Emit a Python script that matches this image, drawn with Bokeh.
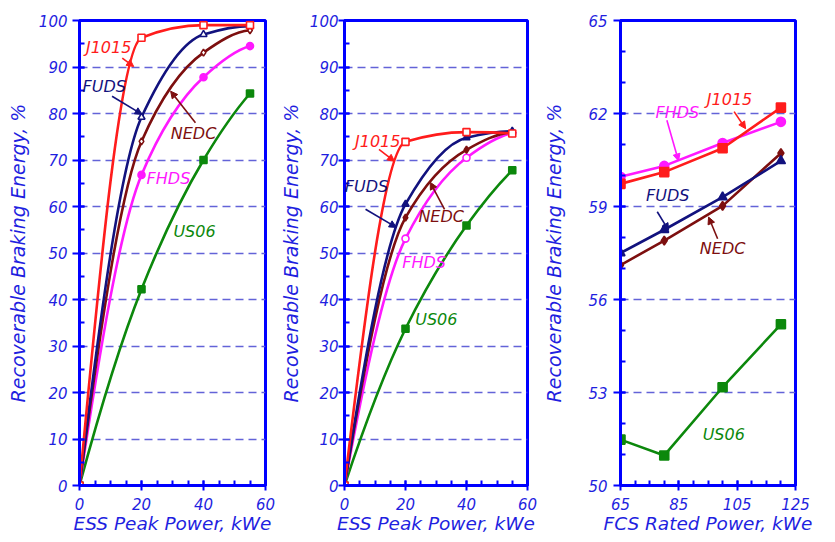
import numpy as np
from bokeh.plotting import figure
from bokeh.layouts import row
from bokeh.models import Range1d, FixedTicker, Label, Arrow, NormalHead
from bokeh.embed import file_html
from bokeh.resources import INLINE

# ---------------- data ----------------
series_names = ["J1015", "FUDS", "NEDC", "FHDS", "US06"]

ess_power = [0, 20, 40, 55]
p1_j1015 = [0, 96.3, 99.0, 99.0]
p1_fuds = [0, 79.2, 97.0, 98.8]
p1_nedc = [0, 74.0, 93.1, 97.9]
p1_fhds = [0, 66.8, 87.8, 94.5]
p1_us06 = [0, 42.2, 70.0, 84.3]

p2_j1015 = [0, 73.9, 76.0, 75.7]
p2_fuds = [0, 60.5, 74.8, 76.2]
p2_nedc = [0, 57.6, 72.2, 76.0]
p2_fhds = [0, 53.1, 70.5, 75.8]
p2_us06 = [0, 33.7, 55.9, 67.8]

fcs_power = [65, 80, 100, 120]
p3_j1015 = [59.73, 60.11, 60.88, 62.19]
p3_fhds = [59.96, 60.31, 61.05, 61.73]
p3_fuds = [57.50, 58.25, 59.30, 60.47]
p3_nedc = [57.11, 57.90, 59.02, 60.72]
p3_us06 = [51.48, 50.97, 53.17, 55.20]

ess_ticks = [0, 20, 40, 60]
ess_minor = [0, 5, 10, 15, 20, 25, 30, 35, 40, 45, 50, 55, 60]
pct_ticks = [0, 10, 20, 30, 40, 50, 60, 70, 80, 90, 100]
pct_minor = [0, 5, 10, 15, 20, 25, 30, 35, 40, 45, 50, 55, 60, 65, 70, 75, 80, 85, 90, 95, 100]
fcs_ticks = [65, 85, 105, 125]
fcs_minor = [65, 70, 75, 80, 85, 90, 95, 100, 105, 110, 115, 120, 125]
e3_ticks = [50, 53, 56, 59, 62, 65]
e3_minor = [50, 51, 52, 53, 54, 55, 56, 57, 58, 59, 60, 61, 62, 63, 64, 65]

# ---------------- style ----------------
COL = {"J1015": "#ff1c1c", "FUDS": "#12127e", "NEDC": "#7d0f0f",
       "FHDS": "#ff19ff", "US06": "#0c880c"}
MARK = {"J1015": "square", "FUDS": "triangle", "NEDC": "diamond",
        "FHDS": "circle", "US06": "square"}
AXIS_BLUE = "#0000ff"
TEXT_BLUE = "#1f1fe0"
GRID_BLUE = "#6363d8"
FONT = "DejaVu Sans"
YLABEL = "Recoverable Braking Energy, %"
FIG_H = 540


def monotone_bezier(xs, ys):
    x = np.asarray(xs, float)
    y = np.asarray(ys, float)
    h = np.diff(x)
    d = np.diff(y) / h
    n = len(x)
    m = np.zeros(n)
    for k in range(1, n - 1):
        if d[k - 1] * d[k] <= 0:
            m[k] = 0.0
        else:
            w1 = 2 * h[k] + h[k - 1]
            w2 = h[k] + 2 * h[k - 1]
            m[k] = (w1 + w2) / (w1 / d[k - 1] + w2 / d[k])

    def end(h0, h1, d0, d1):
        if d0 == 0:
            return 0.0
        mm = ((2 * h0 + h1) * d0 - h0 * d1) / (h0 + h1)
        if np.sign(mm) != np.sign(d0):
            return 0.0
        if np.sign(d0) != np.sign(d1) and abs(mm) > abs(3 * d0):
            return 3 * d0
        return mm

    m[0] = end(h[0], h[1], d[0], d[1])
    m[-1] = end(h[-1], h[-2], d[-1], d[-2])
    return dict(x0=x[:-1], y0=y[:-1], x1=x[1:], y1=y[1:],
                cx0=x[:-1] + h / 3, cy0=y[:-1] + m[:-1] * h / 3,
                cx1=x[1:] - h / 3, cy1=y[1:] - m[1:] * h / 3)


def make_fig(xr, yr, xt, xm, yt, ym, w, bl, br, xlabel,
             y_std, y_tick_std, y_tick_out):
    p = figure(width=w, height=FIG_H,
               x_range=Range1d(*xr), y_range=Range1d(*yr),
               output_backend="svg", toolbar_location=None,
               min_border_left=bl, min_border_right=br,
               min_border_top=20, min_border_bottom=55,
               background_fill_color="white", border_fill_color="white")
    p.outline_line_color = AXIS_BLUE
    p.outline_line_width = 3
    p.xaxis.ticker = FixedTicker(ticks=xt, minor_ticks=xm)
    p.yaxis.ticker = FixedTicker(ticks=yt, minor_ticks=ym)
    for ax in (p.xaxis[0], p.yaxis[0]):
        ax.axis_line_color = AXIS_BLUE
        ax.axis_line_width = 3
        ax.major_tick_line_color = AXIS_BLUE
        ax.major_tick_line_width = 2
        ax.minor_tick_line_color = AXIS_BLUE
        ax.minor_tick_line_width = 2
        ax.major_tick_in = 5
        ax.minor_tick_in = 5
        ax.minor_tick_out = 0
        ax.major_label_text_font = FONT
        ax.major_label_text_font_style = "italic"
        ax.major_label_text_font_size = "15px"
        ax.major_label_text_color = TEXT_BLUE
        ax.axis_label_text_font = FONT
        ax.axis_label_text_font_style = "italic"
        ax.axis_label_text_color = TEXT_BLUE
    p.xaxis.axis_label_text_font_size = "18.5px"
    p.yaxis.axis_label_text_font_size = "19px"
    p.xaxis.major_tick_out = 5
    p.xaxis.major_label_standoff = 7
    p.xaxis.axis_label_standoff = 0
    p.xaxis.axis_label = xlabel
    p.yaxis.major_tick_out = y_tick_out
    p.yaxis.major_label_standoff = y_tick_std
    p.yaxis.axis_label_standoff = y_std
    p.yaxis.axis_label = YLABEL
    p.xgrid.visible = False
    p.ygrid.ticker = FixedTicker(ticks=yt[1:-1])
    p.ygrid.grid_line_color = GRID_BLUE
    p.ygrid.grid_line_dash = "8 5"
    p.ygrid.grid_line_width = 1.3
    return p


def add_notes(p, notes):
    for name, tx, ty, arrow in notes:
        c = COL[name]
        if arrow is not None:
            xs, ys, xe, ye = arrow
            p.add_layout(Arrow(end=NormalHead(size=7, fill_color=c, line_color=c, line_width=1),
                               x_start=xs, y_start=ys, x_end=xe, y_end=ye,
                               line_color=c, line_width=1.6))
        p.add_layout(Label(x=tx, y=ty, text=name, text_font=FONT, text_font_style="italic",
                           text_font_size="16px", text_color=c,
                           text_align="center", text_baseline="middle"))


def draw_series(p, xs, ys, name, size, filled, smooth):
    c = COL[name]
    if smooth:
        p.bezier(line_color=c, line_width=2.6, **monotone_bezier(xs, ys))
    else:
        p.line(xs, ys, line_color=c, line_width=2.6)
    p.scatter(xs, ys, marker=MARK[name], size=size, line_color=c,
              fill_color=c if filled else "white", line_width=1.6)


# ---------------- panel 1 ----------------
p1 = make_fig((0, 60), (0, 100), ess_ticks, ess_minor, pct_ticks, pct_minor,
              276, 79, 11, "ESS Peak Power, kWe", 7, 5, 7)
p1_series = [("US06", p1_us06, True), ("FHDS", p1_fhds, True), ("NEDC", p1_nedc, False),
             ("FUDS", p1_fuds, False), ("J1015", p1_j1015, False)]
for name, ys, filled in p1_series:
    draw_series(p1, ess_power, ys, name, 7, filled, True)
add_notes(p1, [
    ("J1015", 9.4, 94.2, (13.8, 91.9, 17.5, 90.1)),
    ("FUDS", 8.0, 85.9, (10.5, 83.7, 20.2, 79.8)),
    ("NEDC", 36.8, 75.7, (37.4, 78.0, 29.4, 84.8)),
    ("FHDS", 28.7, 66.1, None),
    ("US06", 37.1, 54.6, None),
])

# ---------------- panel 2 ----------------
p2 = make_fig((0, 60), (0, 100), ess_ticks, ess_minor, pct_ticks, pct_minor,
              264, 62, 13, "ESS Peak Power, kWe", 5, 0, 6)
p2_series = [("US06", p2_us06, True), ("FHDS", p2_fhds, False), ("NEDC", p2_nedc, True),
             ("FUDS", p2_fuds, True), ("J1015", p2_j1015, False)]
for name, ys, filled in p2_series:
    draw_series(p2, ess_power, ys, name, 7, filled, True)
add_notes(p2, [
    ("J1015", 10.9, 73.9, (11.3, 72.3, 16.4, 69.7)),
    ("FUDS", 7.2, 64.2, (6.9, 59.4, 17.0, 55.5)),
    ("NEDC", 31.7, 57.9, (32.8, 59.4, 28.1, 65.2)),
    ("FHDS", 26.1, 48.0, None),
    ("US06", 30.1, 35.6, None),
])

# ---------------- panel 3 ----------------
p3 = make_fig((65, 125), (50, 65), fcs_ticks, fcs_minor, e3_ticks, e3_minor,
              295, 76, 40, "FCS Rated Power, kWe", 20, 6, 7)
p3_series = [("US06", p3_us06), ("NEDC", p3_nedc), ("FUDS", p3_fuds),
             ("FHDS", p3_fhds), ("J1015", p3_j1015)]
for name, ys in p3_series:
    draw_series(p3, fcs_power, ys, name, 9, True, False)
add_notes(p3, [
    ("FHDS", 84.5, 62.03, (80.9, 61.78, 84.9, 60.47)),
    ("J1015", 102.4, 62.44, (103.95, 62.06, 107.9, 61.51)),
    ("FUDS", 81.2, 59.34, (77.6, 58.83, 81.5, 58.23)),
    ("NEDC", 100.0, 57.66, (98.3, 57.96, 95.2, 58.66)),
    ("US06", 100.4, 51.66, None),
])

layout = row(p1, p2, p3)
open("out.html", "w").write(file_html(layout, INLINE, title="Recoverable Braking Energy"))
